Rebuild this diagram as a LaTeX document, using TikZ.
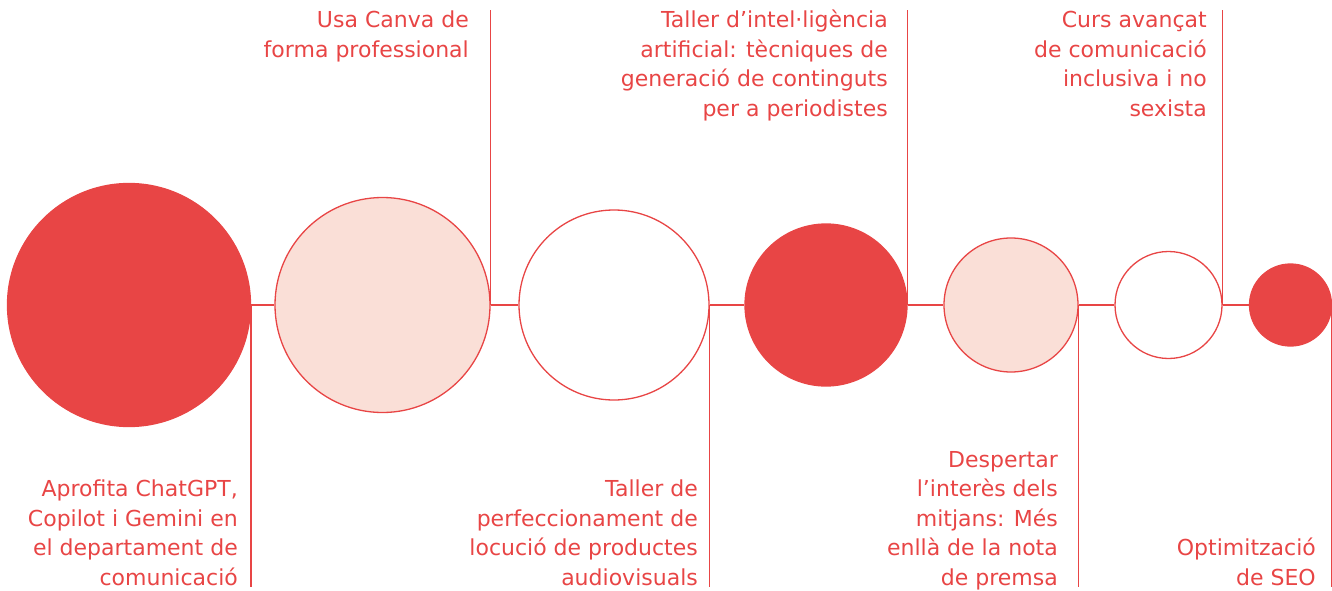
\documentclass[tikz,border=0pt]{standalone}
\usepackage{fontspec}
\setmainfont{DejaVu Sans}
\definecolor{cred}{HTML}{E84545}
\definecolor{cpink}{HTML}{FADFD7}
\begin{document}
\begin{tikzpicture}[x=1pt,y=-1pt,
  dot/.style={circle,draw=cred,line width=1.3pt,inner sep=0pt,minimum size=#1},
  lbl/.style={align=right,anchor=base east,inner sep=0pt,text=cred,font=\fontsize{22}{29.5}\selectfont},
  conn/.style={draw=cred,line width=1.3pt},
  vconn/.style={draw=cred,line width=1.6pt}]
\useasboundingbox (0,0) rectangle (1332,591);
\coordinate (top) at (0,10);
\coordinate (bot) at (0,587);
\node[dot=243pt,fill=cred]  (c1) at (129,305) {};
\node[dot=215pt,fill=cpink] (c2) at (382.5,305) {};
\node[dot=190pt,fill=white] (c3) at (614,305) {};
\node[dot=162pt,fill=cred]  (c4) at (826,305) {};
\node[dot=134pt,fill=cpink] (c5) at (1011,305) {};
\node[dot=107pt,fill=white] (c6) at (1168.5,305) {};
\node[dot=82pt,fill=cred]   (c7) at (1290.5,305) {};
\draw[conn] (c1) -- (c2);
\draw[conn] (c2) -- (c3);
\draw[conn] (c3) -- (c4);
\draw[conn] (c4) -- (c5);
\draw[conn] (c5) -- (c6);
\draw[conn] (c6) -- (c7);
\draw[vconn] (c1.east) -- (c1.east |- bot);
\draw[vconn] (c2.east) -- (c2.east |- top);
\draw[vconn] (c3.east) -- (c3.east |- bot);
\draw[vconn] (c4.east) -- (c4.east |- top);
\draw[vconn] (c5.east) -- (c5.east |- bot);
\draw[vconn] (c6.east) -- (c6.east |- top);
\draw[vconn] ([xshift=-0.8pt]c7.east) -- ([xshift=-0.8pt]c7.east |- bot);
\node[lbl] (t2) at (469,57.5) {Usa Canva de\\forma professional};
\node[lbl] (t4) at (888,116.5) {Taller d’intel·ligència\\artificial: tècniques de\\generació de continguts\\per a periodistes};
\node[lbl] (t6) at (1207,116.5) {Curs avançat\\de comunicació\\inclusiva i no\\sexista};
\node[lbl] (t1) at (238,585) {Aprofita ChatGPT,\\Copilot i Gemini en\\el departament de\\comunicació};
\node[lbl] (t3) at (698,585) {Taller de\\perfeccionament de\\locució de productes\\audiovisuals};
\node[lbl] (t5) at (1058,585) {Despertar\\l’interès dels\\mitjans: Més\\enllà de la nota\\de premsa};
\node[lbl] (t7) at (1316,585) {Optimització\\de SEO};
\end{tikzpicture}
\end{document}
